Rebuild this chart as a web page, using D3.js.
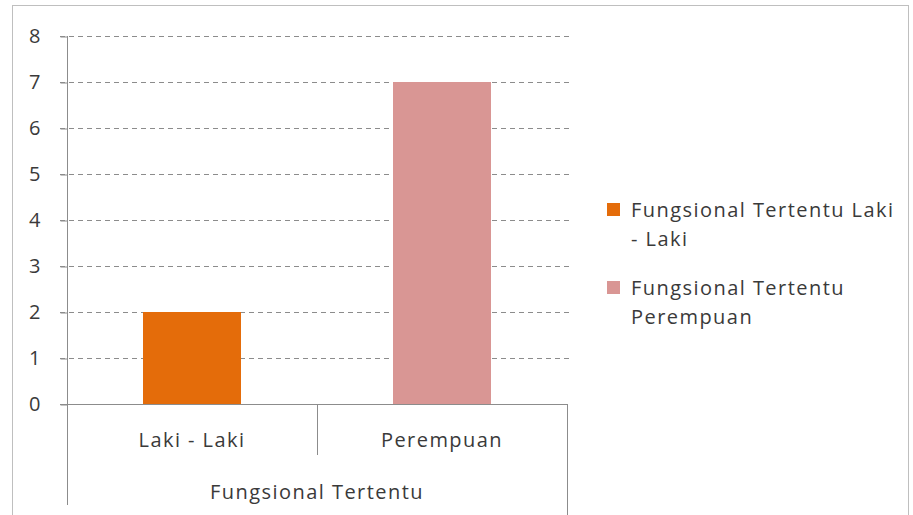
<!DOCTYPE html>
<meta charset="utf-8">
<script src="https://d3js.org/d3.v7.min.js"></script>
<style>
  body { margin: 0; background: #fff; }
  text { font-family: "Open Sans", sans-serif; fill: #3a3a3a; letter-spacing: 1.45px; }
</style>
<svg id="chart" width="913" height="515"></svg>
<script>

// data
var categories = ["Laki - Laki", "Perempuan"];
var values = [2, 7];
var groupLabel = "Fungsional Tertentu";
var seriesNames = ["Fungsional Tertentu Laki - Laki", "Fungsional Tertentu Perempuan"];
var legendLines = [["Fungsional Tertentu Laki", "- Laki"], ["Fungsional Tertentu", "Perempuan"]];
var yTicks = [0, 1, 2, 3, 4, 5, 6, 7, 8];
var colors = ["#e46c0a", "#d99694"];

var svg = d3.select("#chart");
var fontSize = 20;

// outer frame
svg.append("rect")
    .attr("x", 12.5).attr("y", 5.5)
    .attr("width", 896).attr("height", 520)
    .attr("fill", "none")
    .attr("stroke", "#bfbfbf");

var plotLeft = 67, plotRight = 567, plotTop = 36, plotBottom = 404;

var x = d3.scaleBand()
    .domain(categories)
    .range([plotLeft, plotRight])
    .paddingInner(0.608)
    .paddingOuter(0.304);

var band = d3.scaleBand().domain(categories).range([plotLeft, plotRight]);

var y = d3.scaleLinear()
    .domain([0, 8])
    .range([plotBottom, plotTop]);

// gridlines
svg.append("g")
  .selectAll("line")
  .data(yTicks.filter(function(d){ return d > 0 }))
  .enter()
  .append("line")
    .attr("x1", plotLeft - 7).attr("x2", plotRight + 3)
    .attr("y1", function(d){ return y(d) + 0.5 })
    .attr("y2", function(d){ return y(d) + 0.5 })
    .attr("stroke", "#8c8c8c")
    .attr("stroke-width", 1)
    .attr("stroke-dasharray", "5,4");

// bars
svg.append("g")
  .selectAll("rect")
  .data(values)
  .enter()
  .append("rect")
    .attr("x", function(d, i){ return x(categories[i]) })
    .attr("y", function(d){ return y(d) })
    .attr("width", x.bandwidth())
    .attr("height", function(d){ return y(0) - y(d) })
    .attr("fill", function(d, i){ return colors[i] });

// y axis
var yAxis = d3.axisLeft(y)
    .tickValues(yTicks)
    .tickSize(7)
    .tickPadding(18);

var gy = svg.append("g")
    .attr("transform", "translate(" + (plotLeft + 0.5) + ",0.5)")
    .call(yAxis);
gy.select(".domain").remove();
gy.selectAll(".tick line").attr("stroke", "#8c8c8c");
gy.selectAll(".tick text")
    .attr("font-size", fontSize)
    .attr("font-family", null)
    .attr("text-anchor", "middle")
    .attr("x", -32)
    .attr("fill", "#3a3a3a");

// axis lines (vertical axis extends down through the category area)
svg.append("line")
    .attr("x1", plotLeft + 0.5).attr("x2", plotLeft + 0.5)
    .attr("y1", plotTop).attr("y2", 505)
    .attr("stroke", "#8c8c8c");

svg.append("line")
    .attr("x1", plotLeft - 7).attr("x2", plotRight)
    .attr("y1", y(0) + 0.5).attr("y2", y(0) + 0.5)
    .attr("stroke", "#8c8c8c");

// category separators
svg.append("line")
    .attr("x1", band(categories[1]) + 0.5).attr("x2", band(categories[1]) + 0.5)
    .attr("y1", y(0)).attr("y2", 455)
    .attr("stroke", "#8c8c8c");
svg.append("line")
    .attr("x1", plotRight + 0.5).attr("x2", plotRight + 0.5)
    .attr("y1", y(0)).attr("y2", 515)
    .attr("stroke", "#8c8c8c");

// category labels
svg.append("g")
  .selectAll("text")
  .data(categories)
  .enter()
  .append("text")
    .attr("x", function(d){ return band(d) + band.bandwidth() / 2 })
    .attr("y", 447)
    .attr("text-anchor", "middle")
    .attr("font-size", fontSize)
    .text(function(d){ return d });

svg.append("text")
    .attr("x", (plotLeft + plotRight) / 2)
    .attr("y", 499)
    .attr("text-anchor", "middle")
    .attr("font-size", fontSize)
    .text(groupLabel);

// legend
var legend = svg.append("g")
  .selectAll("g")
  .data(seriesNames)
  .enter()
  .append("g")
    .attr("transform", function(d, i){ return "translate(607," + (203 + i * 78) + ")" });

legend.append("rect")
    .attr("width", 13).attr("height", 13)
    .attr("fill", function(d, i){ return colors[i] });

legend.append("text")
    .attr("font-size", fontSize)
    .selectAll("tspan")
    .data(function(d, i){ return legendLines[i] })
    .enter()
    .append("tspan")
      .attr("x", 24)
      .attr("y", function(d, j){ return 14 + j * 29 })
      .text(function(d){ return d });

</script>
